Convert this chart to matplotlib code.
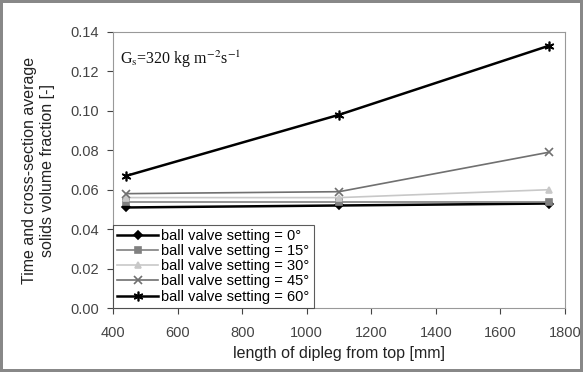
import matplotlib
matplotlib.use('Agg')
import matplotlib.pyplot as plt

# data
length = [440, 1100, 1750]
settings = ['0°', '15°', '30°', '45°', '60°']
frac_0 = [0.051, 0.052, 0.053]
frac_15 = [0.054, 0.054, 0.054]
frac_30 = [0.056, 0.056, 0.060]
frac_45 = [0.058, 0.059, 0.079]
frac_60 = [0.067, 0.098, 0.133]

series = [frac_0, frac_15, frac_30, frac_45, frac_60]
colors = ['black', '#808080', '#c8c8c8', '#707070', 'black']
markers = ['D', 's', '^', 'x', (6, 2, 0)]
msizes = [4, 4, 5, 6, 7]

plt.rcParams['font.family'] = 'Liberation Sans'
plt.rcParams['mathtext.fontset'] = 'stix'

fig = plt.figure(figsize=(5.83, 3.72), dpi=100)
fig.patch.set_edgecolor('#888888')
fig.patch.set_linewidth(3)
ax = fig.add_axes([0.194, 0.172, 0.775, 0.742])

for s, y, c, m, ms in zip(settings, series, colors, markers, msizes):
    ax.plot(length, y, color=c, marker=m, markersize=ms, lw=1.8 if c == 'black' else 1.2,
            mew=1.2, label='ball valve setting = ' + s)

ax.set_xlim(400, 1800)
ax.set_ylim(0, 0.14)
ax.set_xticks(range(400, 1801, 200))
ax.set_yticks([0, 0.02, 0.04, 0.06, 0.08, 0.10, 0.12, 0.14])
ax.yaxis.set_major_formatter(matplotlib.ticker.FormatStrFormatter('%.2f'))
ax.tick_params(labelsize=10.5, colors='#444444', length=4, pad=6)
ax.tick_params(axis='x', pad=9)
for sp in ax.spines.values():
    sp.set_color('#999999')

ax.set_xlabel('length of dipleg from top [mm]', fontsize=11.5, color='#222222', labelpad=4)
ax.set_ylabel('Time and cross-section average\nsolids volume fraction [-]', fontsize=11.5,
              color='#222222', labelpad=11, linespacing=1.25)

ax.text(0.015, 0.94, r'G$_\mathrm{s}$=320 kg m$^{-2}$s$^{-1}$', transform=ax.transAxes,
        fontsize=11.5, family='Liberation Serif', va='top', color='#111111')

leg = ax.legend(loc='lower left', fontsize=10.5, frameon=True, fancybox=False,
                borderaxespad=0, handlelength=2.8, handletextpad=0.2,
                labelspacing=0.08, borderpad=0.3)
leg.get_frame().set_edgecolor('#333333')
leg.get_frame().set_linewidth(0.8)

fig.savefig('out.png', dpi=100)
